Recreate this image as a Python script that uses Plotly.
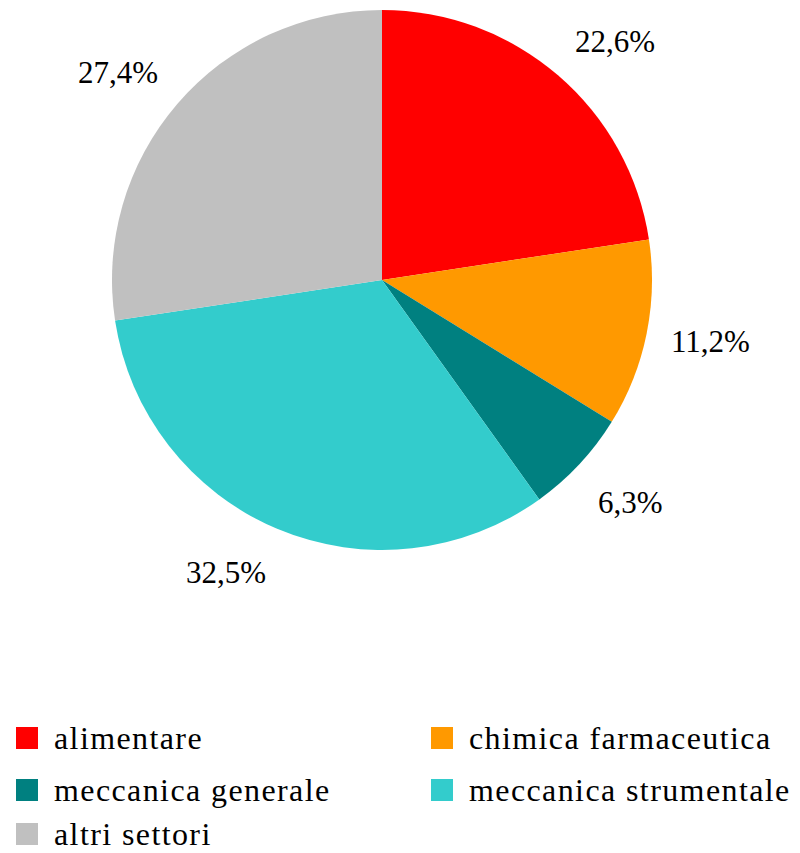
import math
import plotly.graph_objects as go

categories = ["alimentare", "chimica farmaceutica", "meccanica generale",
              "meccanica strumentale", "altri settori"]
values = [22.6, 11.2, 6.3, 32.5, 27.4]
colors = ["#FF0000", "#FF9900", "#008080", "#33CCCC", "#C0C0C0"]
label_texts = ["22,6%", "11,2%", "6,3%", "32,5%", "27,4%"]

OFF = 8  # page body margin
W, H = 800 - OFF, 853 - OFF
FONT = "Times New Roman"

# pie geometry (page pixels)
cx_px, cy_px, R = 382 - OFF, 280 - OFF, 270
dom_x = [(cx_px - R) / W, (cx_px + R) / W]
dom_y = [1 - (cy_px + R) / H, 1 - (cy_px - R) / H]

fig = go.Figure(go.Pie(
    labels=categories, values=values, sort=False, direction="clockwise",
    rotation=0, marker=dict(colors=colors, line=dict(width=0)),
    textinfo="none", hoverinfo="label+percent", showlegend=False,
    domain=dict(x=dom_x, y=dom_y),
))

# outside labels anchored at the mid-angle of each slice
total = sum(values)
cum = 0.0
LR = 1.085 * R
for v, t in zip(values, label_texts):
    mid = (cum + v / 2) / total * 2 * math.pi
    cum += v
    s, c = math.sin(mid), math.cos(mid)
    px = cx_px + LR * s
    py = cy_px - LR * c
    xa = "left" if s > 0.3 else ("right" if s < -0.3 else "center")
    ya = "bottom" if c > 0.3 else ("top" if c < -0.3 else "middle")
    fig.add_annotation(x=px / W, y=1 - py / H, xref="paper", yref="paper",
                       text=t, showarrow=False, xanchor=xa, yanchor=ya,
                       yshift=-3,
                       font=dict(family=FONT, size=31, color="black"))

# legend: two columns, square swatch + text
leg_col_x = [16 - OFF, 431 - OFF]
leg_row_y = [738 - OFF, 790 - OFF, 834 - OFF]
sw = 22
for i, (name, col) in enumerate(zip(categories, colors)):
    r, k = divmod(i, 2)
    x0 = leg_col_x[k]
    yc = leg_row_y[r]
    fig.add_shape(type="rect", xref="paper", yref="paper",
                  x0=x0 / W, x1=(x0 + sw) / W,
                  y0=1 - (yc + sw / 2) / H, y1=1 - (yc - sw / 2) / H,
                  fillcolor=col, line=dict(width=0))
    fig.add_annotation(x=(x0 + 36) / W, y=1 - yc / H, xref="paper", yref="paper",
                       text=f"<span style='letter-spacing:1.4px'>{name}</span>",
                       showarrow=False, xanchor="left", yanchor="middle",
                       font=dict(family=FONT, size=32, color="black"))

fig.update_layout(
    width=W, height=H,
    margin=dict(l=0, r=0, t=0, b=0, autoexpand=False),
    paper_bgcolor="white", plot_bgcolor="white",
    font=dict(family=FONT, size=30, color="black"),
    showlegend=False,
)

fig.write_html("out.html")
